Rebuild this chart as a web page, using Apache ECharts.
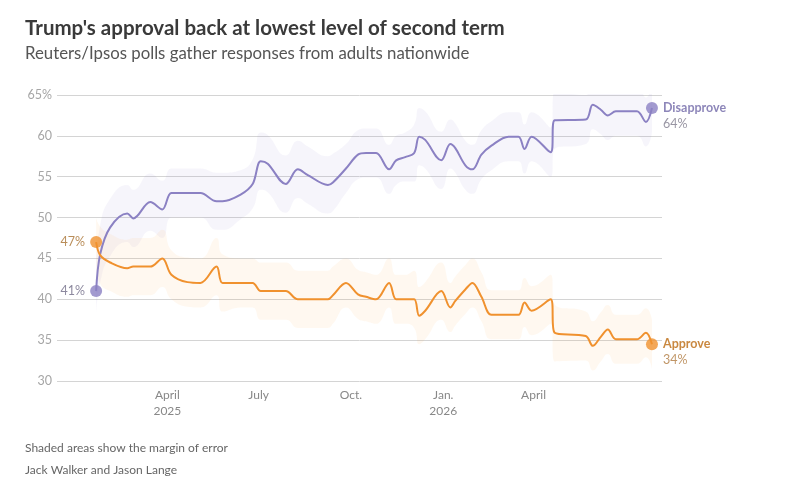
<!DOCTYPE html>
<html>
<head>
<meta charset="utf-8">
<script src="https://cdn.jsdelivr.net/npm/echarts@6/dist/echarts.min.js"></script>
<style>
html, body { margin: 0; padding: 0; background: #fff; }
#chart { width: 787px; height: 495px; }
</style>
</head>
<body>
<div id="chart"></div>
<script>
const pollDates = [
  '2025-01-20', '2025-01-24', '2025-02-03', '2025-02-20', '2025-02-26', '2025-03-15', '2025-03-27',
  '2025-04-05', '2025-04-21', '2025-05-04', '2025-05-20', '2025-05-26', '2025-06-13', '2025-06-25',
  '2025-07-03', '2025-07-10', '2025-07-28', '2025-08-09', '2025-08-19', '2025-09-08', '2025-09-13',
  '2025-09-26', '2025-10-08', '2025-10-16', '2025-10-26', '2025-11-08', '2025-11-15', '2025-11-24',
  '2025-12-03', '2025-12-08', '2025-12-14', '2025-12-30', '2026-01-08', '2026-01-13', '2026-01-23',
  '2026-01-30', '2026-02-08', '2026-02-18', '2026-03-07', '2026-03-17', '2026-03-23', '2026-03-30',
  '2026-04-18', '2026-04-22', '2026-05-23', '2026-05-30', '2026-06-07', '2026-06-14', '2026-06-22',
  '2026-07-13', '2026-07-22', '2026-07-28'
];
const disapprove = [
  41, 45.5, 48.8, 50.5, 49.9, 51.9, 51.0,
  53.0, 53.0, 53.0, 52.0, 52.0, 52.8, 54.1,
  56.9, 56.6, 54.1, 55.9, 55.2, 54.0, 54.3,
  56.0, 57.7, 57.9, 57.9, 55.9, 57.0, 57.4,
  57.9, 59.9, 59.5, 57.0, 59.0, 58.5, 56.4,
  55.9, 57.7, 58.8, 59.9, 59.9, 58.4, 59.9,
  58.0, 61.9, 62.0, 63.8, 63.2, 62.5, 63.0,
  63.0, 61.7, 63.4
];
const approve = [
  47, 45.4, 44.5, 43.8, 44.0, 44.0, 45.0,
  43.0, 42.1, 42.0, 44.0, 42.0, 42.0, 42.0,
  41.0, 41.0, 41.0, 40.0, 40.0, 40.0, 40.5,
  42.0, 40.6, 40.3, 40.0, 42.0, 40.0, 40.0,
  40.0, 38.0, 38.6, 41.0, 39.0, 39.8, 41.2,
  42.0, 40.3, 38.1, 38.1, 38.1, 39.6, 38.6,
  40.0, 35.9, 35.5, 34.3, 35.4, 36.3, 35.1,
  35.1, 35.9, 34.5
];
// half width of the shaded band (margin of error)
const marginOfError = [
  3, 3.5, 3.5, 3.5, 3.5, 3.5, 3.5,
  3, 3, 3, 3.5, 3.5, 3, 3,
  3.5, 3.5, 3.5, 3.5, 3.5, 3.5, 3.5,
  3, 3, 3, 3, 3, 3, 3,
  3.5, 3.5, 3.5, 3.5, 3, 3, 3,
  3, 3, 3, 3, 3, 3, 3,
  3, 3.5, 3, 3, 3, 3, 3,
  3, 3, 3
];
const startLabels = ['41%', '47%'];
const endLabels = ['64%', '34%'];
const seriesNames = ['Disapprove', 'Approve'];
const xTickDates = ['2025-04-01', '2025-07-01', '2025-10-01', '2026-01-01', '2026-04-01'];
const xTickLabels = ['April\n2025', 'July', 'Oct.', 'Jan.\n2026', 'April'];
const xRange = ['2024-12-12', '2026-08-07'];

const PURPLE = '#8b81c3';
const ORANGE = '#f0912e';
const FONT = 'Lato';

const ts = d => echarts.time.parse(d).getTime();
const xTickTimes = xTickDates.map(ts);
const pair = arr => pollDates.map((d, i) => [d, arr[i]]);
const lower = arr => pollDates.map((d, i) => [d, +(arr[i] - marginOfError[i]).toFixed(2)]);
const width = () => pollDates.map((d, i) => [d, 2 * marginOfError[i]]);
const last = pollDates.length - 1;

function band(values, stackName, color) {
  return [
    {
      type: 'line', stack: stackName, data: lower(values), smooth: 0.5,
      symbol: 'none', lineStyle: { opacity: 0 }, silent: true, z: 1
    },
    {
      type: 'line', stack: stackName, data: width(), smooth: 0.5,
      symbol: 'none', lineStyle: { opacity: 0 }, areaStyle: { color: color, opacity: 1 },
      silent: true, z: 1
    }
  ];
}

const chart = echarts.init(document.getElementById('chart'));
chart.setOption({
  animation: false,
  textStyle: { fontFamily: FONT },
  title: [
    {
      text: "Trump's approval back at lowest level of second term",
      left: 25, top: 18, padding: 0,
      textStyle: { fontFamily: FONT, fontSize: 20.5, fontWeight: 'bold', color: '#3a3a3a' }
    },
    {
      text: 'Reuters/Ipsos polls gather responses from adults nationwide',
      left: 25, top: 45, padding: 0,
      textStyle: { fontFamily: FONT, fontSize: 16.8, fontWeight: 'normal', color: '#555' }
    },
    {
      text: 'Shaded areas show the margin of error',
      left: 25, top: 442, padding: 0,
      textStyle: { fontFamily: FONT, fontSize: 12, fontWeight: 'normal', color: '#666' }
    },
    {
      text: 'Jack Walker and Jason Lange',
      left: 25, top: 464, padding: 0,
      textStyle: { fontFamily: FONT, fontSize: 12, fontWeight: 'normal', color: '#666' }
    }
  ],
  grid: { left: 57, right: 125, top: 95, bottom: 114 },
  xAxis: [
    {
      // axis the series are drawn on
      type: 'time', min: xRange[0], max: xRange[1],
      axisLine: { show: false }, axisTick: { show: false },
      splitLine: { show: false }, axisLabel: { show: false }
    },
    {
      // same range, only used for the month labels
      type: 'value', min: ts(xRange[0]), max: ts(xRange[1]),
      position: 'bottom',
      axisLine: { show: false }, axisTick: { show: false }, splitLine: { show: false },
      axisLabel: {
        customValues: xTickTimes,
        margin: 6, color: '#888', fontSize: 12, lineHeight: 16, fontFamily: FONT,
        formatter: v => {
          const i = xTickTimes.indexOf(v);
          return i < 0 ? '' : xTickLabels[i];
        }
      }
    }
  ],
  yAxis: {
    type: 'value',
    min: 30, max: 65, interval: 5,
    axisLine: { show: false },
    axisTick: { show: false },
    splitLine: { lineStyle: { color: '#d4d4d4', width: 1 } },
    axisLabel: {
      margin: 5, color: '#a6a6a6', fontSize: 12.5, fontFamily: FONT,
      formatter: v => (v === 65 ? v + '%' : String(v))
    }
  },
  series: [
    ...band(disapprove, 'dis', 'rgba(140,125,205,0.075)'),
    ...band(approve, 'app', 'rgba(250,165,60,0.075)'),
    {
      name: seriesNames[0], type: 'line', data: pair(disapprove), smooth: 0.35,
      symbol: 'none', lineStyle: { color: PURPLE, width: 2 }, z: 3
    },
    {
      name: seriesNames[1], type: 'line', data: pair(approve), smooth: 0.35,
      symbol: 'none', lineStyle: { color: ORANGE, width: 2 }, z: 3
    },
    // start dots
    {
      type: 'scatter', symbolSize: 12, z: 4,
      data: [
        { value: [pollDates[0], disapprove[0]], itemStyle: { color: PURPLE },
          label: { formatter: startLabels[0], color: '#6f6a86' } },
        { value: [pollDates[0], approve[0]], itemStyle: { color: ORANGE },
          label: { formatter: startLabels[1], color: '#a8702f' } }
      ],
      label: { show: true, position: 'left', distance: 5, fontSize: 12.5, fontFamily: FONT }
    },
    // end dots
    {
      type: 'scatter', symbolSize: 12, z: 4,
      data: [
        { value: [pollDates[last], disapprove[last]], itemStyle: { color: PURPLE },
          label: { formatter: '{n|' + seriesNames[0] + '}\n{v|' + endLabels[0] + '}' } },
        { value: [pollDates[last], approve[last]], itemStyle: { color: ORANGE },
          label: { formatter: '{a|' + seriesNames[1] + '}\n{w|' + endLabels[1] + '}' } }
      ],
      label: {
        show: true, position: 'right', distance: 5, offset: [0, 8],
        rich: {
          n: { fontSize: 12.5, fontWeight: 'bold', color: '#7168a8', fontFamily: FONT, lineHeight: 16 },
          v: { fontSize: 12.5, color: '#7e7b8c', fontFamily: FONT, lineHeight: 16 },
          a: { fontSize: 12.5, fontWeight: 'bold', color: '#bb6a10', fontFamily: FONT, lineHeight: 16 },
          w: { fontSize: 12.5, color: '#b07a40', fontFamily: FONT, lineHeight: 16 }
        }
      }
    }
  ]
});
</script>
</body>
</html>
